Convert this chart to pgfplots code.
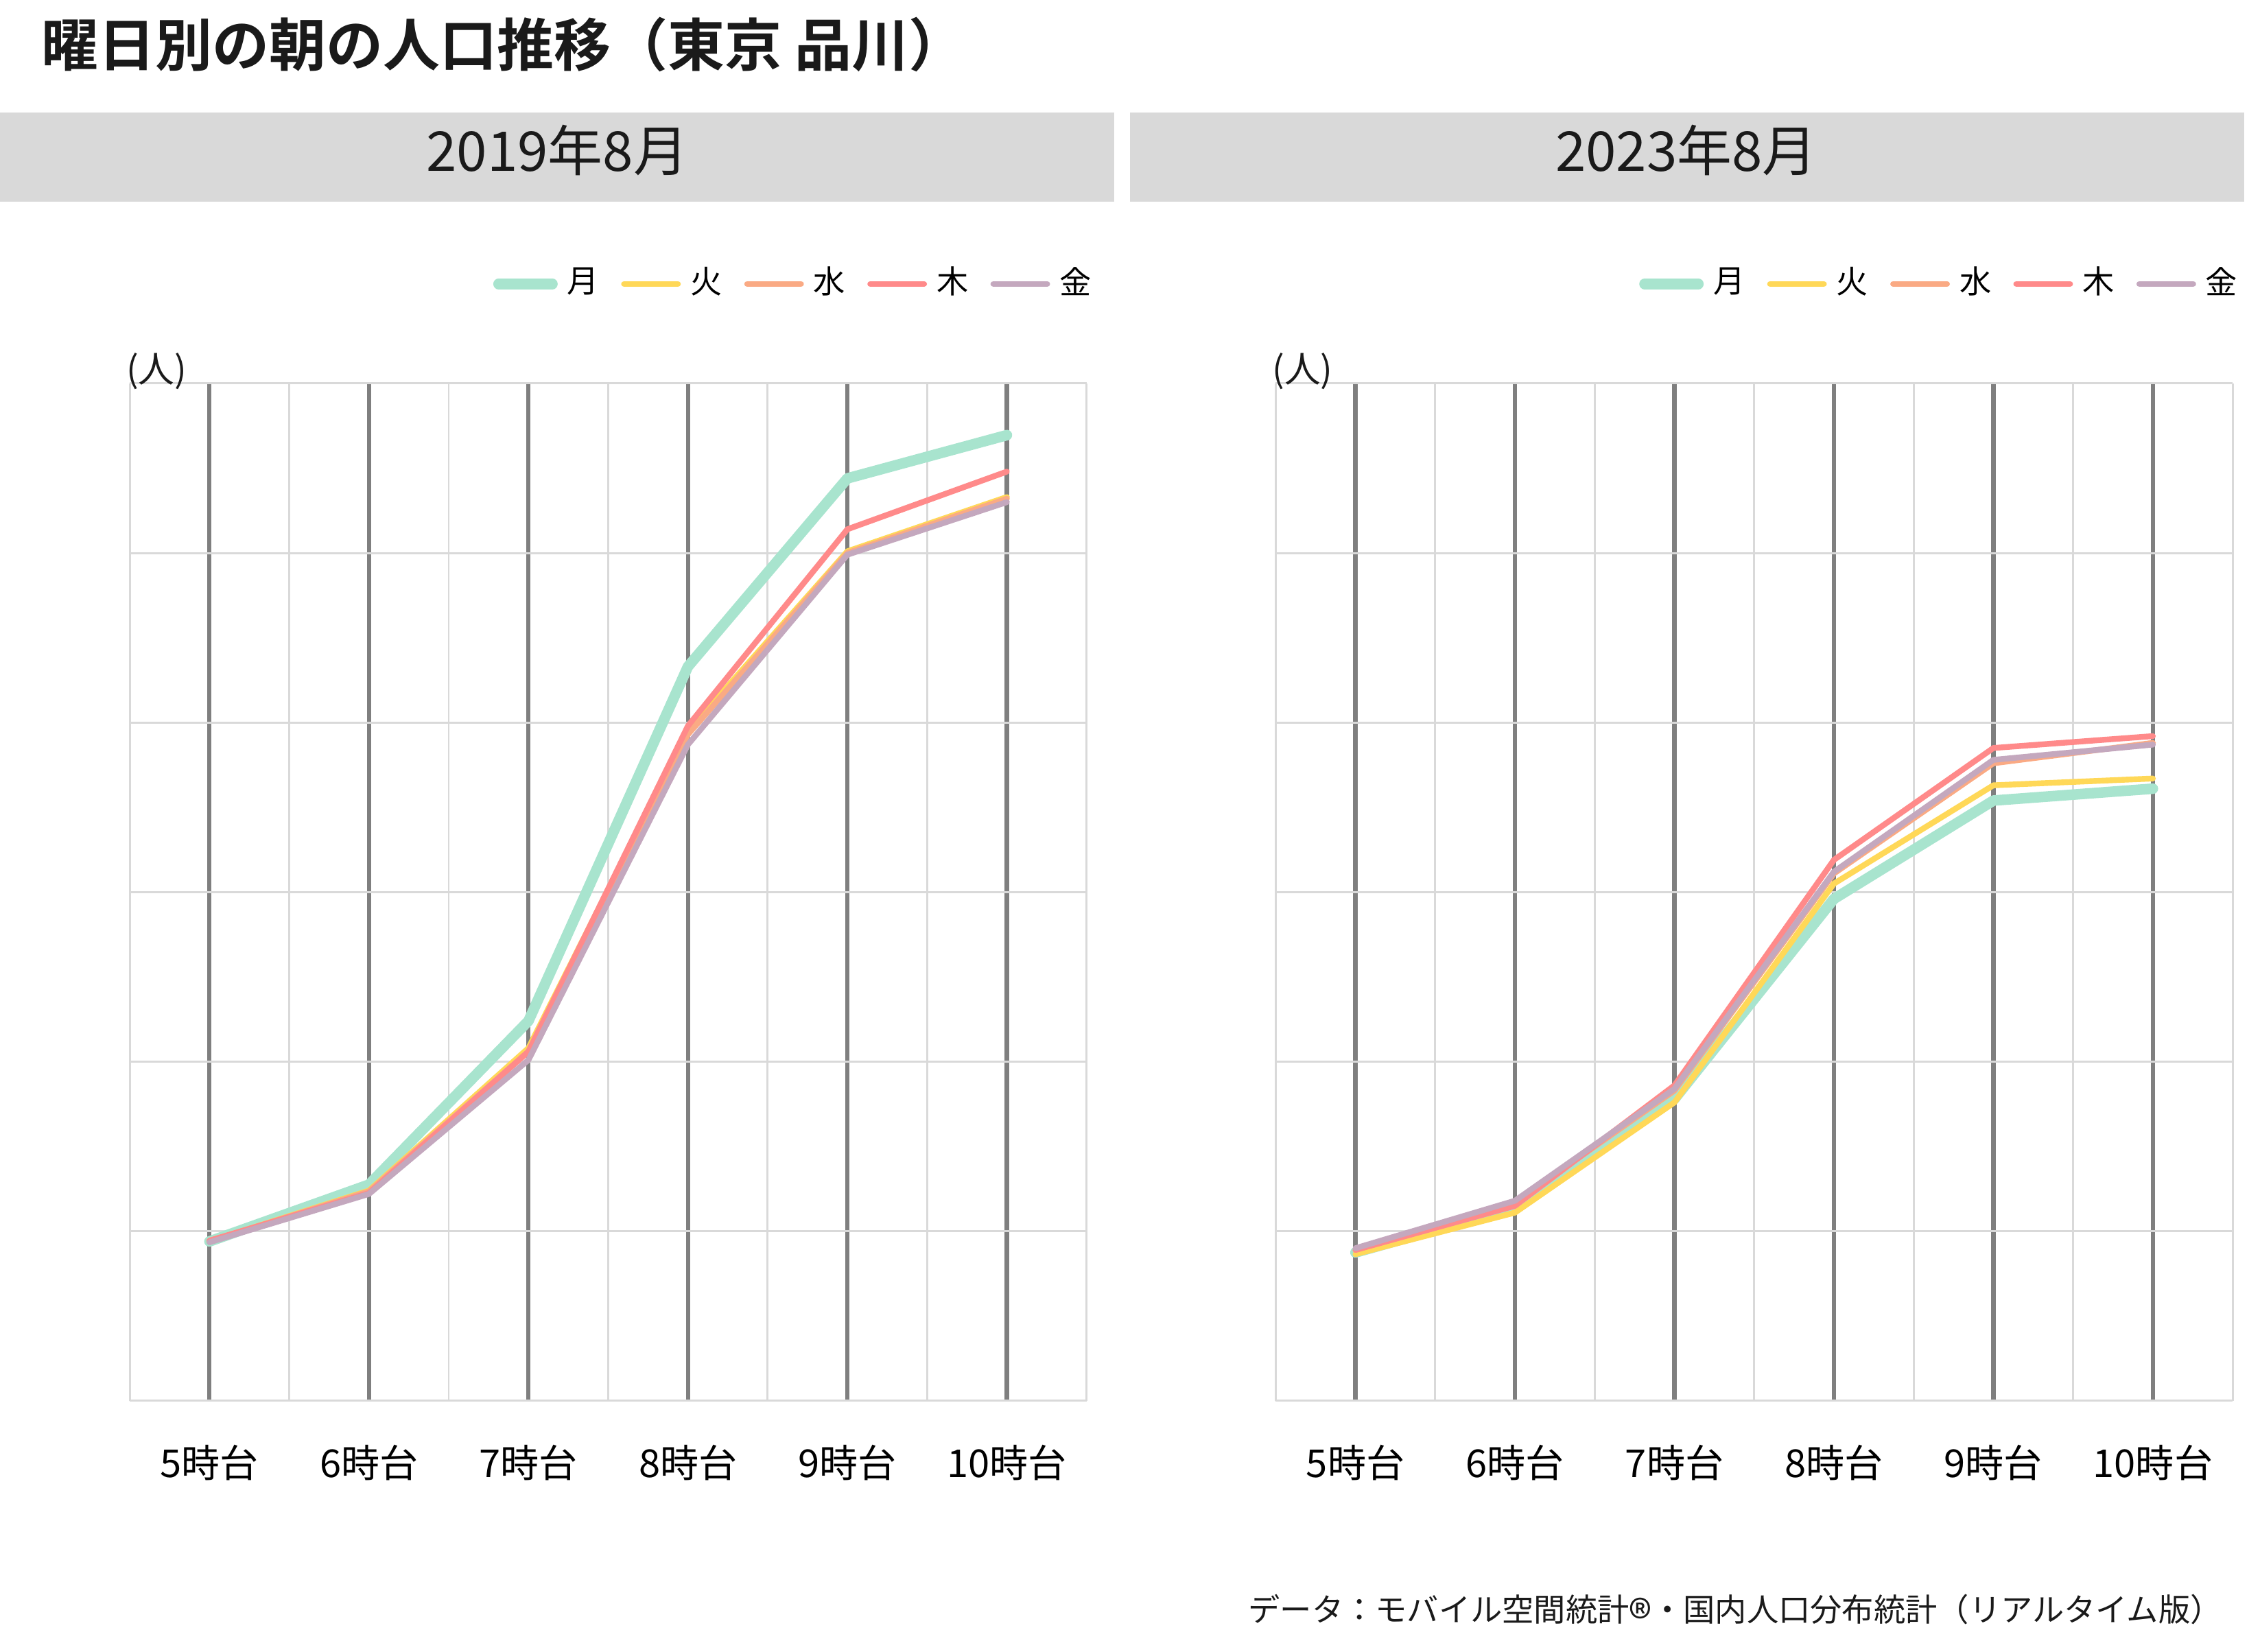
\documentclass[border=0pt]{standalone}
\usepackage{fontspec}
\setmainfont{Noto Sans CJK JP}[BoldFont={Noto Sans CJK JP Bold}]
\usepackage{pgfplots}
\pgfplotsset{compat=1.18}
\usepackage{pgfplotstable}

\definecolor{cMon}{RGB}{168,228,206}
\definecolor{cTue}{RGB}{255,216,88}
\definecolor{cWed}{RGB}{250,170,132}
\definecolor{cThu}{RGB}{255,138,138}
\definecolor{cFri}{RGB}{196,168,190}
\definecolor{gDark}{RGB}{127,127,127}
\definecolor{gLight}{RGB}{217,217,217}
\definecolor{txt}{RGB}{26,26,26}

\pgfplotstableread{
x mon tue wed thu fri
0 9.40 9.40 9.40 9.45 9.35
1 12.75 12.40 12.35 12.25 12.20
2 22.40 20.80 20.60 20.60 20.10
3 43.30 39.50 39.30 39.80 38.70
4 54.40 50.10 50.00 51.40 49.90
5 56.95 53.30 53.20 54.80 53.00
}\leftdata

\pgfplotstableread{
x mon tue wed thu fri
0 8.75 8.65 8.90 8.90 9.00
1 11.40 11.10 11.70 11.50 11.80
2 17.80 17.60 18.30 18.60 18.40
3 29.60 30.50 31.10 31.90 31.20
4 35.40 36.30 37.60 38.50 37.80
5 36.10 36.70 38.80 39.20 38.70
}\rightdata

\pgfplotsset{panel/.style={
  width=199.0pt, height=211.6pt, scale only axis,
  xmin=-0.5, xmax=5.5, ymin=0, ymax=60,
  xtick={0,...,5}, xticklabels={5時台,6時台,7時台,8時台,9時台,10時台},
  minor xtick={-0.5,0.5,...,5.5},
  ytick={0,10,...,60}, yticklabels={},
  grid=both,
  major x grid style={draw=gDark, line width=0.9pt},
  minor x grid style={draw=gLight, line width=0.42pt},
  major y grid style={draw=gLight, line width=0.42pt},
  axis line style={draw=none},
  major tick length=0pt, minor tick length=0pt,
  tick style={draw=none},
  xticklabel style={font=\fontsize{8}{9}\selectfont, text=black, yshift=-5.6pt},
  clip=false,
  legend columns=5,
  legend cell align=left,
  legend image code/.code={\draw[#1, line cap=round] (0pt,0pt) -- (11.2pt,0pt);},
  legend style={draw=none, fill=none, inner sep=0pt,
    at={(1,1)}, anchor=east, xshift=3.2pt, yshift=20.7pt,
    font=\fontsize{6.6}{8}\selectfont,
    /tikz/every even column/.append style={column sep=2.6pt}},
  every axis plot/.append style={line join=round, line cap=round},
}}

\begin{document}
\begin{tikzpicture}
\useasboundingbox (0,0) rectangle (470pt,343.5pt);

\node[anchor=west, inner sep=0, text=txt, font=\bfseries\fontsize{11.85}{13}\selectfont] at (8.4pt,334.2pt) {曜日別の朝の人口推移（東京 品川）};

\fill[gLight] (0pt,301.6pt) rectangle (231.7pt,320.1pt);
\fill[gLight] (235.0pt,301.6pt) rectangle (466.7pt,320.1pt);
\node[text=txt, font=\fontsize{11.4}{13}\selectfont] at (115.9pt,312.2pt) {2019年8月};
\node[text=txt, font=\fontsize{11.4}{13}\selectfont] at (350.7pt,312.2pt) {2023年8月};

\begin{axis}[panel, at={(26.98pt,52.16pt)}, anchor=south west]
\addplot[cMon, line width=2.2pt] table[x=x, y=mon] {\leftdata};
\addlegendentry{月}
\addplot[cTue, line width=1.2pt] table[x=x, y=tue] {\leftdata};
\addlegendentry{火}
\addplot[cWed, line width=1.2pt] table[x=x, y=wed] {\leftdata};
\addlegendentry{水}
\addplot[cThu, line width=1.2pt] table[x=x, y=thu] {\leftdata};
\addlegendentry{木}
\addplot[cFri, line width=1.2pt] table[x=x, y=fri] {\leftdata};
\addlegendentry{金}
\node[anchor=west, inner sep=0, font=\fontsize{7.5}{9}\selectfont, text=txt] at (rel axis cs:0,1) [xshift=-0.9pt, yshift=2.5pt] {(人)};
\end{axis}

\begin{axis}[panel, at={(265.3pt,52.16pt)}, anchor=south west]
\addplot[cMon, line width=2.2pt] table[x=x, y=mon] {\rightdata};
\addlegendentry{月}
\addplot[cTue, line width=1.2pt] table[x=x, y=tue] {\rightdata};
\addlegendentry{火}
\addplot[cWed, line width=1.2pt] table[x=x, y=wed] {\rightdata};
\addlegendentry{水}
\addplot[cThu, line width=1.2pt] table[x=x, y=thu] {\rightdata};
\addlegendentry{木}
\addplot[cFri, line width=1.2pt] table[x=x, y=fri] {\rightdata};
\addlegendentry{金}
\node[anchor=west, inner sep=0, font=\fontsize{7.5}{9}\selectfont, text=txt] at (rel axis cs:0,1) [xshift=-0.9pt, yshift=2.5pt] {(人)};
\end{axis}

\node[anchor=east, inner sep=0, text=txt, font=\fontsize{6.6}{8}\selectfont] at (462.3pt,8.8pt) {データ：モバイル空間統計\raisebox{-0.85ex}[0pt][0pt]{\scalebox{1.5}{®}}・国内人口分布統計（リアルタイム版）};
\end{tikzpicture}
\end{document}
